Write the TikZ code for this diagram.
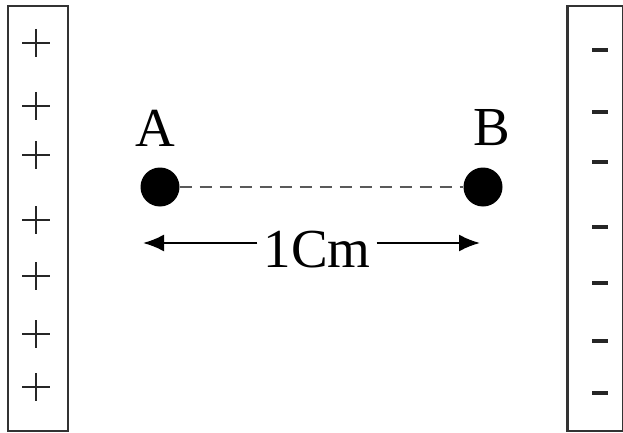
\documentclass[tikz,border=0pt]{standalone}
\usepackage{fontspec}
\setmainfont{Liberation Serif}
\usetikzlibrary{arrows.meta}
\begin{document}
\begin{tikzpicture}[x=1pt,y=-1pt,
  plate/.style={draw=black!80,line width=2.6pt,minimum width=#1,minimum height=425pt,inner sep=0pt},
  charge/.style={draw=black!85,line width=2.2pt},
  minus/.style={draw=black!85,line width=3.2pt},
  dot/.style={circle,fill=black,minimum size=39pt,inner sep=0pt},
  lab/.style={font=\fontsize{55}{60}\selectfont,inner sep=0pt},
  dim/.style={line width=2.2pt,-{Latex[length=21pt,width=17pt]}}]
\useasboundingbox (0,0) rectangle (623,433);
\node[plate=60pt] (L) at (38,218.5) {};
\node[plate=56pt,anchor=west] (R) at (566,218.5) {};
\foreach \y in {43,106,155,220,276,334,387}{
  \draw[charge] (22,\y) -- (50,\y);
  \draw[charge] (36,\y-14) -- (36,\y+14);
}
\foreach \y in {50,112,162,227,283,341,393}{
  \draw[minus] (592,\y) -- (608,\y);
}
\node[dot] (A) at (160,187) {};
\node[dot] (B) at (483,187) {};
\node[lab] (la) at (155,128) {A};
\node[lab] (lb) at (492,128) {B};
\draw[draw=black!65,line width=2.4pt,dash pattern=on 12pt off 8pt] (A) -- (B);
\node[lab,fill=white,inner xsep=6pt] (d) at (317,250) {1Cm};
\coordinate (tl) at (143,243);
\coordinate (tr) at (480,243);
\draw[dim] (d.west |- tl) -- (tl);
\draw[dim] (d.east |- tr) -- (tr);
\end{tikzpicture}
\end{document}
